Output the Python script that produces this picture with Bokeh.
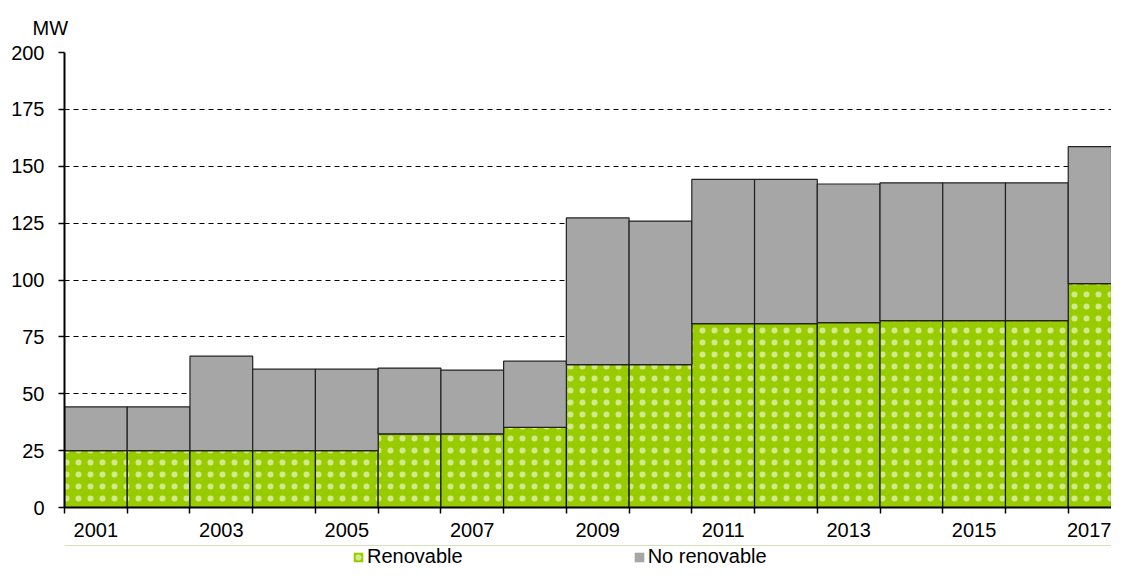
from bokeh.plotting import figure
from bokeh.layouts import column
from bokeh.models import (FixedTicker, Legend, LegendItem, Range1d,
                          ColumnDataSource)
from bokeh.transform import stack
from bokeh.embed import file_html
from bokeh.resources import INLINE

years = [2001, 2002, 2003, 2004, 2005, 2006, 2007, 2008, 2009,
         2010, 2011, 2012, 2013, 2014, 2015, 2016, 2017]
renovable = [25.0, 25.0, 25.0, 25.0, 25.0, 32.4, 32.4, 35.2, 62.8,
             62.8, 80.8, 80.8, 81.3, 82.1, 82.1, 82.1, 98.4]
no_renovable = [19.2, 19.2, 41.5, 35.8, 35.8, 28.9, 28.0, 29.1, 64.5,
                63.1, 63.4, 63.4, 60.9, 60.6, 60.6, 60.6, 60.2]
y_ticks = [0, 25, 50, 75, 100, 125, 150, 175, 200]
label_years = [2001, 2003, 2005, 2007, 2009, 2011, 2013, 2015, 2017]
series_names = ["Renovable", "No renovable"]

FONT = "Liberation Sans"
GREEN = "#99CC00"
GREY = "#A6A6A6"
green_style = dict(fill_color=GREEN, line_color="#111111", line_width=1.2,
                   hatch_pattern="dot", hatch_color="white", hatch_scale=12,
                   hatch_weight=0.5, hatch_alpha=0.55)
grey_style = dict(fill_color=GREY, line_color="#222222", line_width=1.2)

xpos = [i + 1 for i in range(len(years))]
src = ColumnDataSource(dict(x=xpos, renov=renovable, nonrenov=no_renovable))

p = figure(frame_width=1047, frame_height=455,
           x_range=Range1d(0.5, 17.19), y_range=Range1d(0, 200),
           output_backend="svg", toolbar_location=None,
           min_border_left=64, min_border_right=0, min_border_top=52,
           min_border_bottom=38)

p.title.text = "MW"
p.title.align = "left"
p.title.offset = -32
p.title.standoff = 28
p.title.text_font = FONT
p.title.text_font_size = "20px"
p.title.text_font_style = "normal"
p.title.text_color = "black"

r1 = p.vbar(x="x", bottom=0, top=stack("renov"), width=1.0, source=src,
            **green_style)
r2 = p.vbar(x="x", bottom=stack("renov"), top=stack("renov", "nonrenov"),
            width=1.0, source=src, **grey_style)

# x axis
idx_of = {y: i + 1 for i, y in enumerate(years)}
p.xaxis.ticker = FixedTicker(ticks=[idx_of[y] for y in label_years],
                             minor_ticks=[i + 0.5 for i in range(len(years))])
p.xaxis.major_label_overrides = {idx_of[y]: str(y) for y in label_years}
p.xaxis.major_tick_out = 0
p.xaxis.major_tick_in = 0
p.xaxis.minor_tick_out = 6
p.xaxis.minor_tick_in = 0
p.xaxis.minor_tick_line_color = "black"
p.xaxis.minor_tick_line_width = 1.5
p.xaxis.axis_line_width = 2
p.xaxis.axis_line_color = "black"
p.xaxis.major_label_standoff = 9
p.xaxis.major_label_text_font = FONT
p.xaxis.major_label_text_font_size = "20px"
p.xaxis.major_label_text_color = "black"

# y axis
p.yaxis.ticker = FixedTicker(ticks=y_ticks)
p.yaxis.major_tick_out = 6
p.yaxis.major_tick_in = 0
p.yaxis.minor_tick_out = 0
p.yaxis.minor_tick_in = 0
p.yaxis.major_tick_line_color = "black"
p.yaxis.major_tick_line_width = 1.5
p.yaxis.axis_line_width = 2
p.yaxis.axis_line_color = "black"
p.yaxis.major_label_standoff = 14
p.yaxis.major_label_text_font = FONT
p.yaxis.major_label_text_font_size = "20px"
p.yaxis.major_label_text_color = "black"

p.xgrid.grid_line_color = None
p.ygrid.grid_line_color = "black"
p.ygrid.grid_line_dash = "5 4"
p.ygrid.grid_line_width = 1
p.outline_line_color = None

# legend strip below the chart (its bars lie above its own y range)
lg = figure(width=1111, height=24, x_range=Range1d(0.5, 17.19),
            y_range=Range1d(-10, -9), output_backend="svg",
            toolbar_location=None, min_border=0)
lg.axis.visible = False
lg.grid.visible = False
lg.outline_line_color = None
d1 = lg.vbar(x="x", bottom=0, top=stack("renov"), width=1.0, source=src,
             **dict(green_style, line_alpha=0))
d2 = lg.vbar(x="x", bottom=stack("renov"), top=stack("renov", "nonrenov"),
             width=1.0, source=src, **dict(grey_style, line_alpha=0))

legend = Legend(items=[LegendItem(label=series_names[0], renderers=[d1]),
                       LegendItem(label=series_names[1], renderers=[d2])],
                orientation="horizontal", location=(288, 1),
                glyph_width=12, glyph_height=12, label_standoff=3,
                spacing=170, padding=0, margin=0,
                border_line_color=None, background_fill_alpha=0,
                label_text_font=FONT, label_text_font_size="20px",
                label_text_color="black")
lg.add_layout(legend, "center")

open("out.html", "w").write(file_html(column(p, lg, spacing=0), INLINE))
